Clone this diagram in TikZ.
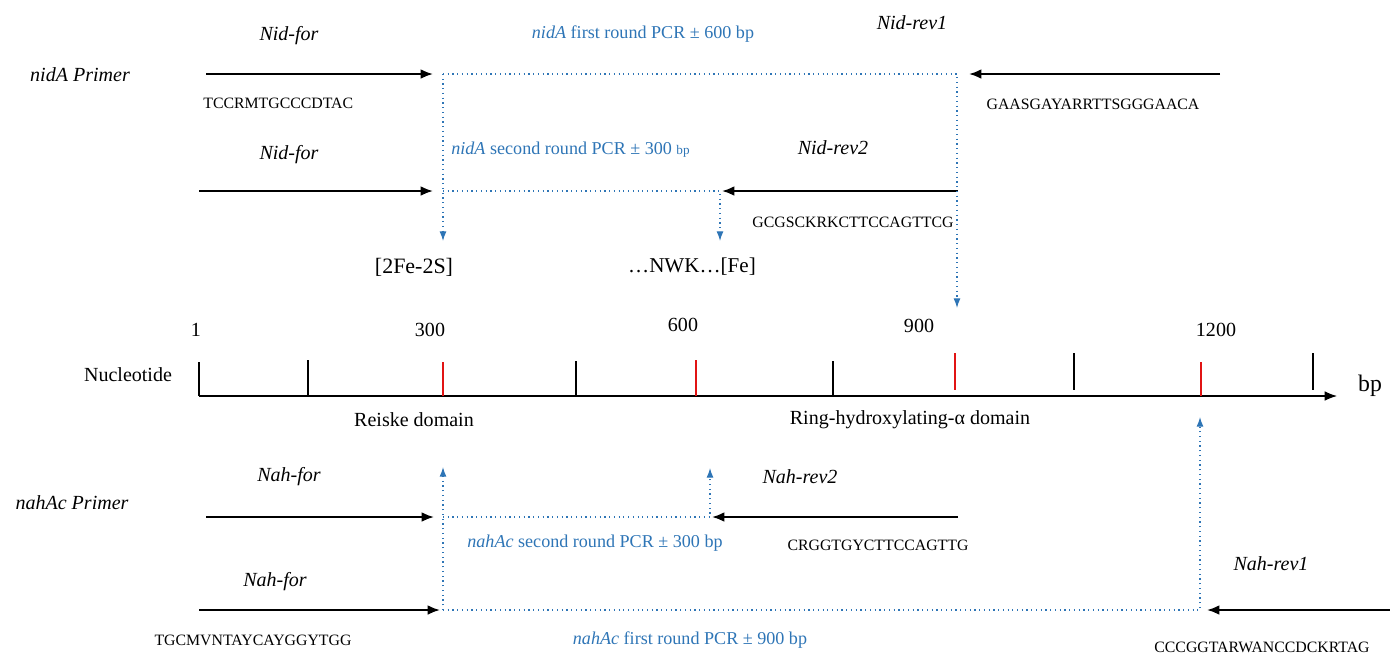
\documentclass[tikz,border=0pt]{standalone}
\usepackage{fontspec}
\setmainfont{Liberation Serif}
\usetikzlibrary{arrows.meta}
\definecolor{pcrblue}{RGB}{46,117,182}
\definecolor{tickred}{RGB}{225,20,20}

\tikzset{
  primer/.style={line width=1.1pt, -{Latex[length=7pt,width=5.5pt]}},
  pcrline/.style={pcrblue, dotted, line width=0.7pt},
  pcrarrow/.style={pcrline, -{Latex[length=5.5pt,width=4pt]}},
  pname/.style={font=\fontsize{11.4}{13}\selectfont\itshape},
  seq/.style={font=\fontsize{9}{11}\selectfont},
  pcrtext/.style={text=pcrblue, font=\fontsize{10.3}{12}\selectfont},
  plain/.style={font=\fontsize{11.4}{13}\selectfont},
  tick/.style={line width=0.6pt},
  redtick/.style={tickred, line width=0.9pt},
}

\begin{document}
\begin{tikzpicture}[x=0.02cm, y=-0.02cm]
\useasboundingbox (0,0) rectangle (1390,654);

% nidA primers
\node[pname] (nidA) at (80,75) {nidA Primer};
\node[pname] (nidfor1) at (289,36) {Nid-for};
\node[pname] (nidfor2) at (289,155) {Nid-for};
\node[pname] (nidrev1) at (912,23) {Nid-rev1};
\node[pname] (nidrev2) at (833,148) {Nid-rev2};
\node[seq, anchor=west, inner sep=0pt] (nidforseq) at (203,103) {TCCRMTGCCCDTAC};
\node[seq] (nidrev1seq) at (1093,104) {GAASGAYARRTTSGGGAACA};
\node[seq] (nidrev2seq) at (853,222) {GCGSCKRKCTTCCAGTTCG};
\node[pcrtext] (nidpcr1) at (643,34) {\textit{nidA} first round PCR ± 600 bp};
\node[pcrtext, anchor=west, inner sep=0pt] (nidpcr2) at (451,150) {\textit{nidA} second round PCR ± 300 {\fontsize{7.5}{9}\selectfont bp}};

\coordinate (nf1a) at (206,74);
\coordinate (nf1b) at (433,74);
\coordinate (nr1a) at (1220,74);
\coordinate (nr1b) at (969,74);
\coordinate (nf2a) at (199,191);
\coordinate (nf2b) at (433,191);
\coordinate (nr2a) at (958,191);
\coordinate (nr2b) at (722,191);
\draw[primer] (nf1a) -- (nf1b);
\draw[primer] (nr1a) -- (nr1b);
\draw[primer] (nf2a) -- (nf2b);
\draw[primer] (nr2a) -- (nr2b);

% nidA products
\coordinate (np1) at (443,74);
\coordinate (np2) at (957,74);
\coordinate (np3) at (957,308);
\coordinate (np4) at (443,241);
\coordinate (np5) at (443,191);
\coordinate (np6) at (720,191);
\coordinate (np7) at (720,241);
\draw[pcrarrow] (np1) -- (np2) -- (np3);
\draw[pcrarrow] (np1) -- (np4);
\draw[pcrarrow] (np5) -- (np6) -- (np7);

\node[font=\fontsize{12.5}{14}\selectfont] (fes) at (414,267) {[2Fe-2S]};
\node[font=\fontsize{12}{14}\selectfont] (nwk) at (692,267) {…NWK…[Fe]};

% nucleotide axis
\node[plain] (nucl) at (128,375) {Nucleotide};
\node[font=\fontsize{13.5}{15}\selectfont] (bp) at (1370,386) {bp};
\node[plain] (n1) at (196,330) {1};
\node[plain] (n300) at (430,330) {300};
\node[plain] (n600) at (683,325) {600};
\node[plain] (n900) at (919,326) {900};
\node[plain] (n1200) at (1216,330) {1200};
\coordinate (ax0) at (199,396);
\coordinate (axm) at (943,396);
\coordinate (ax1) at (1337,396);
\draw[line width=1.2pt] (ax0) -- (axm);
\draw[line width=0.7pt, -{Latex[length=7pt,width=5.5pt]}] (axm) -- (ax1);
\draw[tick] (199,362) -- (199,396);
\draw[tick] (308,360) -- (308,396);
\draw[redtick] (443,362) -- (443,396);
\draw[tick] (576,361) -- (576,396);
\draw[redtick] (696,360) -- (696,396);
\draw[tick] (833,361) -- (833,396);
\draw[redtick] (955,353) -- (955,390);
\draw[tick] (1074,353) -- (1074,390);
\draw[redtick] (1201,362) -- (1201,396);
\draw[tick] (1313,353) -- (1313,390);
\node[plain] (reiske) at (414,420) {Reiske domain};
\node[plain] (ring) at (910,420) {Ring-hydroxylating-α domain};

% nahAc primers
\node[pname] (nahAc) at (72,503) {nahAc Primer};
\node[pname] (nahfor1) at (289,477) {Nah-for};
\node[pname] (nahfor2) at (275,582) {Nah-for};
\node[pname] (nahrev2) at (800,477) {Nah-rev2};
\node[pname] (nahrev1) at (1271,564) {Nah-rev1};
\node[seq] (nahrev2seq) at (878,545) {CRGGTGYCTTCCAGTTG};
\node[seq] (nahforseq) at (253,640) {TGCMVNTAYCAYGGYTGG};
\node[seq] (nahrev1seq) at (1262,647) {CCCGGTARWANCCDCKRTAG};
\node[pcrtext] (nahpcr2) at (595,543) {\textit{nahAc} second round PCR ± 300 bp};
\node[pcrtext] (nahpcr1) at (690,640) {\textit{nahAc} first round PCR ± 900 bp};

\coordinate (hf1a) at (206,517);
\coordinate (hf1b) at (434,517);
\coordinate (hr2a) at (958,517);
\coordinate (hr2b) at (712,517);
\coordinate (hf2a) at (199,610);
\coordinate (hf2b) at (440,610);
\coordinate (hr1a) at (1390,610);
\coordinate (hr1b) at (1207,610);
\draw[primer] (hf1a) -- (hf1b);
\draw[primer] (hr2a) -- (hr2b);
\draw[primer] (hf2a) -- (hf2b);
\draw[primer] (hr1a) -- (hr1b);

% nahAc products
\coordinate (hp1) at (443,610);
\coordinate (hp2) at (443,467);
\coordinate (hp3) at (443,517);
\coordinate (hp4) at (710,517);
\coordinate (hp5) at (710,468);
\coordinate (hp6) at (1200,610);
\coordinate (hp7) at (1200,417);
\draw[pcrarrow] (hp1) -- (hp2);
\draw[pcrarrow] (hp3) -- (hp4) -- (hp5);
\draw[pcrarrow] (hp1) -- (hp6) -- (hp7);
\end{tikzpicture}
\end{document}
